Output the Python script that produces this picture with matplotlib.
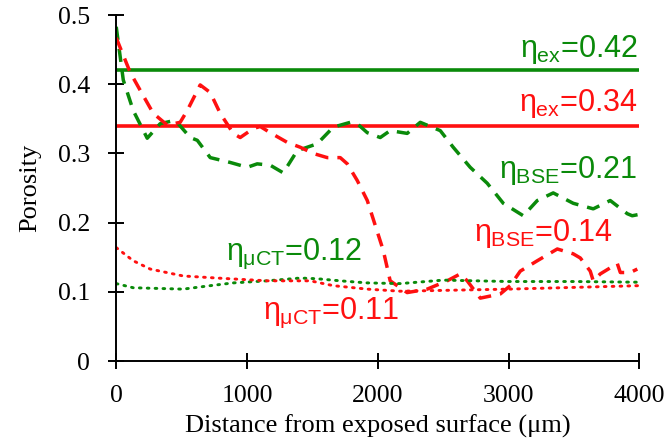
import numpy as np
import matplotlib
matplotlib.use("Agg")
import matplotlib.pyplot as plt

plt.rcParams['mathtext.fontset'] = 'custom'
plt.rcParams['mathtext.rm'] = 'Liberation Sans'
plt.rcParams['mathtext.it'] = 'Liberation Sans'

GREEN = '#0a8a0a'
RED = '#ff1010'

# BSE profiles (dashed)
green_bse_x = [0, 54, 130, 237, 336, 451, 566, 620, 719, 872, 1002, 1078, 1178, 1277, 1384,
               1537, 1660, 1790, 1843, 1920, 2019, 2095, 2225, 2325, 2478, 2577, 2707, 2837,
               2960, 3113, 3220, 3342, 3495, 3648, 3778, 3908, 3946, 4000]
green_bse_y = [0.483, 0.406, 0.362, 0.322, 0.343, 0.348, 0.323, 0.319, 0.294, 0.287, 0.28, 0.285,
               0.283, 0.272, 0.304, 0.314, 0.338, 0.345, 0.343, 0.33, 0.323, 0.333, 0.329, 0.345,
               0.333, 0.309, 0.28, 0.257, 0.228, 0.21, 0.232, 0.243, 0.228, 0.22, 0.232, 0.213,
               0.21, 0.212]
red_bse_x = [0, 107, 184, 283, 390, 489, 543, 642, 719, 795, 895, 948, 1048, 1101, 1178, 1308,
             1407, 1507, 1614, 1713, 1767, 1843, 1920, 2042, 2095, 2225, 2378, 2531, 2631, 2684,
             2784, 2937, 3013, 3090, 3220, 3373, 3495, 3549, 3625, 3648, 3702, 3832, 3855, 3931,
             3985]
red_bse_y = [0.467, 0.417, 0.391, 0.358, 0.341, 0.345, 0.362, 0.399, 0.388, 0.358, 0.329, 0.323,
             0.336, 0.339, 0.33, 0.316, 0.309, 0.3, 0.294, 0.294, 0.285, 0.261, 0.232, 0.16,
             0.116, 0.099, 0.104, 0.116, 0.126, 0.116, 0.091, 0.097, 0.109, 0.13, 0.145, 0.162,
             0.155, 0.149, 0.13, 0.116, 0.126, 0.141, 0.128, 0.128, 0.133]

# micro-CT profiles (dotted)
green_ct_x = [0, 130, 512, 719, 895, 1155, 1407, 1537, 1713, 1920, 2172, 2500, 3000, 3500, 4000]
green_ct_y = [0.112, 0.106, 0.104, 0.109, 0.113, 0.116, 0.12, 0.119, 0.116, 0.113, 0.112, 0.117,
              0.115, 0.115, 0.114]
red_ct_x = [0, 130, 260, 512, 772, 1155, 1484, 1660, 1920, 2172, 3000, 4000]
red_ct_y = [0.164, 0.145, 0.133, 0.123, 0.12, 0.116, 0.116, 0.109, 0.104, 0.101, 0.104, 0.109]

# experimental porosity (solid)
green_ex = 0.42
red_ex = 0.34

fig = plt.figure(figsize=(6.68, 4.42), dpi=100)
ax = fig.add_axes([0.174, 0.183, 0.783, 0.783])

ax.axhline(green_ex, color=GREEN, lw=2.6)
ax.axhline(red_ex, color=RED, lw=2.6)
ax.plot(green_bse_x, green_bse_y, color=GREEN, lw=2.5, ls=(0, (3.8, 2.6)))
ax.plot(red_bse_x, red_bse_y, color=RED, lw=2.5, ls=(0, (3.8, 2.6)))
ax.plot(green_ct_x, green_ct_y, color=GREEN, lw=2.1, ls=(0, (0.6, 2.1)), dash_capstyle='round')
ax.plot(red_ct_x, red_ct_y, color=RED, lw=2.1, ls=(0, (0.6, 2.1)), dash_capstyle='round')

tkw = dict(fontsize=22, family='Liberation Sans', va='center')
ax.text(3990, 0.450, r'$\eta_{\rm ex}$=0.42', color=GREEN, ha='right', **tkw)
ax.text(3990, 0.372, r'$\eta_{\rm ex}$=0.34', color=RED, ha='right', **tkw)
ax.text(3985, 0.275, r'$\eta_{\rm BSE}$=0.21', color=GREEN, ha='right', **tkw)
ax.text(3800, 0.184, r'$\eta_{\rm BSE}$=0.14', color=RED, ha='right', **tkw)
ax.text(840, 0.155, r'$\eta_{\rm \mu CT}$=0.12', color=GREEN, ha='left', **tkw)
ax.text(1125, 0.070, r'$\eta_{\rm \mu CT}$=0.11', color=RED, ha='left', **tkw)

ax.set_xlim(0, 4000)
ax.set_ylim(0, 0.5)
ax.set_xticks([0, 1000, 2000, 3000, 4000])
ax.set_yticks([0, 0.1, 0.2, 0.3, 0.4, 0.5])
ax.set_yticklabels(['0', '0.1', '0.2', '0.3', '0.4', '0.5'])
for s in ['top', 'right']:
    ax.spines[s].set_visible(False)
for s in ['left', 'bottom']:
    ax.spines[s].set_linewidth(1.4)
ax.tick_params(direction='inout', length=12, width=1.4, labelsize=18.5)
ax.tick_params(axis='x', pad=11)
ax.tick_params(axis='y', pad=13)
for lab in ax.get_xticklabels() + ax.get_yticklabels():
    lab.set_family('Liberation Serif')
ax.set_xlabel('Distance from exposed surface (\u03bcm)', family='Liberation Serif',
              fontsize=19, labelpad=6)
ax.set_ylabel('Porosity', family='Liberation Serif', fontsize=19, labelpad=12)

fig.savefig('out.png', dpi=100)
